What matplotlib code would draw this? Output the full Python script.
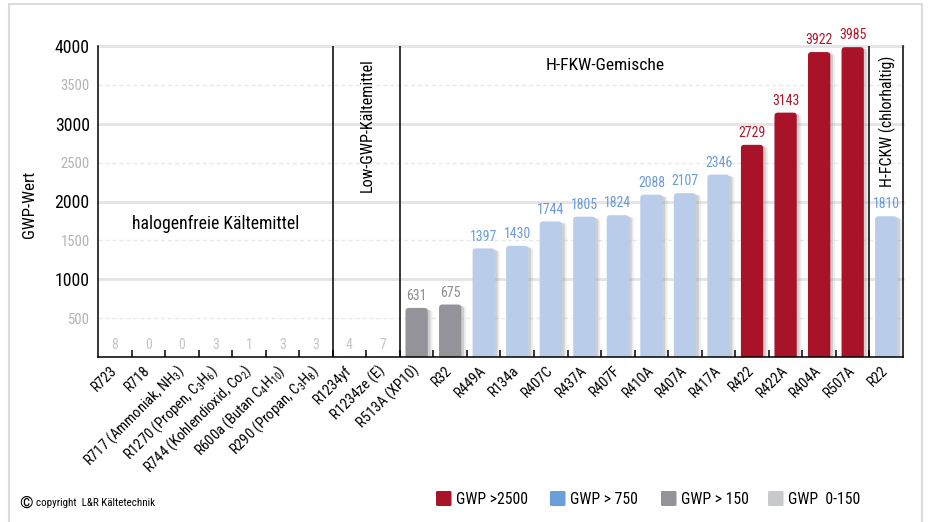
import matplotlib
matplotlib.use("Agg")
import matplotlib.pyplot as plt
from matplotlib import font_manager
from matplotlib.patches import FancyBboxPatch, Rectangle

# pick a narrow sans if one is around
installed = {f.name for f in font_manager.fontManager.ttflist}
base_font = "DejaVu Sans"
for cand in ["Roboto Condensed", "Open Sans Condensed", "Liberation Sans Narrow",
             "Arial Narrow", "Liberation Sans", "Roboto"]:
    if cand in installed:
        base_font = cand
        break
plt.rcParams['font.family'] = [base_font, 'DejaVu Sans']
plt.rcParams['mathtext.fontset'] = 'custom'
plt.rcParams['mathtext.rm'] = base_font
plt.rcParams['mathtext.default'] = 'regular'

# === DATA ===
refrigerants = [
    "R723", "R718", "R717 (Ammoniak, NH$_3$)", "R1270 (Propen, C$_3$H$_6$)",
    "R744 (Kohlendioxid, Co$_2$)", "R600a (Butan C$_4$H$_{10}$)", "R290 (Propan, C$_3$H$_8$)",
    "R1234yf", "R1234ze (E)",
    "R513A (XP10)", "R32", "R449A", "R134a", "R407C", "R437A", "R407F", "R410A",
    "R407A", "R417A", "R422", "R422A", "R404A", "R507A",
    "R22",
]
gwp = [8, 0, 0, 3, 1, 3, 3,
       4, 7,
       631, 675, 1397, 1430, 1744, 1805, 1824, 2088, 2107, 2346, 2729, 3143, 3922, 3985,
       1810]
group_bounds = [6.5, 8.5, 22.5]
legend_labels = ["GWP >2500", "GWP > 750", "GWP > 150", "GWP  0-150"]

# === COLOURS ===
bar_red, bar_blue, bar_gray, bar_light = "#a8132a", "#b9cdeb", "#939399", "#c8c9cc"
txt_red, txt_blue, txt_gray, txt_light = "#b0182d", "#6b9bd6", "#8c8c8c", "#c4c4c4"
legend_colors = ["#a8132a", "#6a9fd8", "#939399", "#c8c9cc"]


def gwp_class(v):
    if v > 2500:
        return bar_red, txt_red
    if v > 750:
        return bar_blue, txt_blue
    if v > 150:
        return bar_gray, txt_gray
    return bar_light, txt_light


W, H = 929, 522
fig = plt.figure(figsize=(W / 100, H / 100), dpi=100)
ax_box = [98 / W, 1 - 357 / H, 805 / W, 311 / H]
ax = fig.add_axes(ax_box)
ax.set_xlim(-0.5, len(gwp) - 0.5)
ax.set_ylim(0, 4000)

# grid
for y in [1000, 2000, 3000, 4000]:
    ax.axhline(y, color="#e4e4e4", lw=2, zorder=0, clip_on=False)
for y in [500, 1500, 2500, 3500]:
    ax.axhline(y, color="#e9e9e9", lw=1, ls=(0, (3, 2)), zorder=0)

# rounded bars with a soft shadow on the right
bw = 0.665
aspect = (4000 / 311) / (len(gwp) / 805)
r = 0.1
xs = list(range(len(gwp)))
for x, v in zip(xs, gwp):
    face, _ = gwp_class(v)
    for off, alpha in [(0.14, 0.18), (0.08, 0.35)]:
        ax.add_patch(FancyBboxPatch((x - bw / 2 + off, -200), bw, v + 200 - 20,
                                    boxstyle=f"round,pad=0,rounding_size={r}",
                                    mutation_aspect=aspect, fc="#9a9a9a", ec="none",
                                    alpha=alpha, zorder=1))
    ax.add_patch(FancyBboxPatch((x - bw / 2, -200), bw, v + 200,
                                boxstyle=f"round,pad=0,rounding_size={r}",
                                mutation_aspect=aspect, fc=face, ec="none", zorder=2))

# value labels
for x, v in zip(xs, gwp):
    _, tc = gwp_class(v)
    ax.annotate(str(v), (x, v), xytext=(0, 3.5), textcoords="offset points",
                ha="center", va="bottom", fontsize=10, color=tc, zorder=3)

# group dividers and titles
for b in group_bounds:
    ax.axvline(b, color="black", lw=1.1, zorder=4)
ax.text(3.0, 1711, "halogenfreie Kältemittel", ha="center", va="center", fontsize=12.7)
ax.text(7.54, 3846, "Low-GWP-Kältemittel", ha="center", va="top", rotation=90, fontsize=11.6)
ax.text(14.61, 3747, "H-FKW-Gemische", ha="center", va="center", fontsize=12.6)
ax.text(23.03, 3035, "H-FCKW (chlorhaltig)", ha="center", va="center", rotation=90,
        fontsize=11.4)

# spines
for s in ["left", "bottom", "right"]:
    ax.spines[s].set_color("black")
    ax.spines[s].set_linewidth(1.1)
ax.spines["top"].set_visible(False)

# x axis
ax.set_xticks(xs)
ax.set_xticklabels(refrigerants, rotation=45, ha="right", va="center",
                   rotation_mode="anchor", fontsize=10.5)
ax.tick_params(axis="x", which="major", length=0, pad=8)
ax.set_xticks([i + 0.5 for i in range(len(gwp) - 1)], minor=True)
ax.tick_params(axis="x", which="minor", direction="in", length=5, width=1.1)

# y axis
yt = [500, 1000, 1500, 2000, 2500, 3000, 3500, 4000]
ax.set_yticks(yt)
ax.set_yticklabels([str(t) for t in yt])
ax.tick_params(axis="y", length=0, pad=6)
for t, lab in zip(yt, ax.get_yticklabels()):
    if t % 1000 == 0:
        lab.set_fontsize(12.8)
        lab.set_color("black")
    else:
        lab.set_fontsize(10.5)
        lab.set_color("#b3b3b3")
ax.set_ylabel("GWP-Wert", fontsize=12.2)
ax.yaxis.set_label_coords((30 - 98) / 805, (357 - 204) / 311)
ax.yaxis.label.set_va("center")

# outer frame
fig.patches.append(Rectangle((9 / W, -0.05), (922 - 9) / W, 1.05 - 4 / H,
                             transform=fig.transFigure, fill=False, ec="#dcdcdc", lw=1.5))

# legend
sq_left = [436, 550, 661, 768]
for xl, col, lab in zip(sq_left, legend_colors, legend_labels):
    fig.patches.append(FancyBboxPatch((xl / W, 1 - 506 / H), 15.5 / W, 15 / H,
                                      boxstyle="round,pad=0,rounding_size=0.002",
                                      transform=fig.transFigure, fc=col, ec="none"))
    fig.text((xl + 20) / W, 1 - 499 / H, lab, fontsize=11.3, va="center", ha="left")

fig.text(19 / W, 1 - 503 / H, "\u00a9", fontsize=12.5, va="center", ha="left")
fig.text(36 / W, 1 - 503 / H, "copyright  L&R Kältetechnik", fontsize=7.9, va="center", ha="left")

fig.savefig("out.png", dpi=100)
